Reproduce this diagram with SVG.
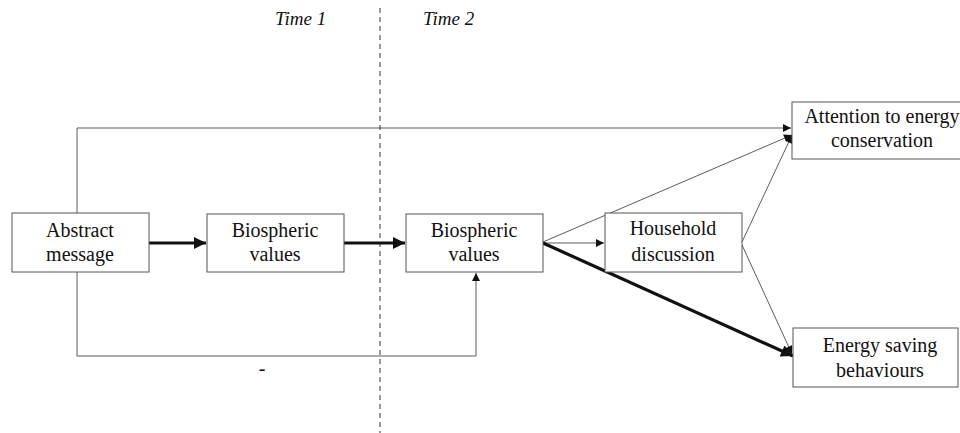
<svg xmlns="http://www.w3.org/2000/svg" width="960" height="433" viewBox="0 0 960 433">
<style>
.box{fill:#fff;stroke:#555;stroke-width:1}
.t{font-family:"Liberation Serif","Times New Roman",serif;font-size:20px;fill:#111;text-anchor:middle}
.ti{font-family:"Liberation Serif","Times New Roman",serif;font-size:19px;font-style:italic;fill:#111}
.thin{stroke:#333;stroke-width:0.8;fill:none}
.thick{stroke:#111;stroke-width:3.2;fill:none}
</style>
<defs>
<marker id="a" viewBox="0 0 10 10" refX="10" refY="5" markerWidth="10" markerHeight="8" markerUnits="userSpaceOnUse" orient="auto"><path d="M0,0L10,5L0,10z" fill="#111"/></marker>
<marker id="b" viewBox="0 0 10 10" refX="10" refY="5" markerWidth="14" markerHeight="12" markerUnits="userSpaceOnUse" orient="auto"><path d="M0,0L10,5L0,10z" fill="#111"/></marker>
</defs>
<rect width="960" height="433" fill="#fff"/>
<line x1="380" y1="8" x2="380" y2="433" stroke="#555" stroke-width="1.2" stroke-dasharray="5,4"/>
<text class="ti" x="275" y="25">Time 1</text>
<text class="ti" x="423" y="25">Time 2</text>
<g id="connectors">
<path class="thin" d="M77,213V128H791" marker-end="url(#a)"/>
<path class="thin" d="M77,272V356H476V273" marker-end="url(#a)"/>
<line class="thick" x1="149" y1="243" x2="206" y2="243" marker-end="url(#b)"/>
<line class="thick" x1="344" y1="243" x2="405" y2="243" marker-end="url(#b)"/>
<line class="thin" x1="543" y1="243" x2="604" y2="243" marker-end="url(#a)"/>
<line class="thin" x1="543" y1="242" x2="792" y2="135" marker-end="url(#a)"/>
<line class="thin" x1="742" y1="242" x2="792" y2="135" marker-end="url(#a)"/>
<line class="thin" x1="742" y1="245" x2="792" y2="354" marker-end="url(#a)"/>
<line class="thick" x1="543" y1="243" x2="793" y2="356" marker-end="url(#b)"/>
<text class="t" x="262" y="375">-</text>
</g>
<g id="abstract"><rect class="box" x="12" y="213" width="137" height="59"/><text class="t" x="80" y="237">Abstract</text><text class="t" x="80" y="261">message</text></g>
<g id="bio1"><rect class="box" x="207" y="214" width="137" height="58"/><text class="t" x="275" y="237">Biospheric</text><text class="t" x="275" y="261">values</text></g>
<g id="bio2"><rect class="box" x="406" y="214" width="137" height="58"/><text class="t" x="474" y="237">Biospheric</text><text class="t" x="474" y="261">values</text></g>
<g id="household"><rect class="box" x="605" y="213" width="137" height="59"/><text class="t" x="673" y="235">Household</text><text class="t" x="673" y="261">discussion</text></g>
<g id="attention"><rect class="box" x="792" y="102" width="180" height="57"/><text class="t" x="882" y="123">Attention to energy</text><text class="t" x="882" y="147">conservation</text></g>
<g id="energy"><rect class="box" x="793" y="328" width="165" height="59"/><text class="t" x="880" y="352">Energy saving</text><text class="t" x="880" y="377">behaviours</text></g>
</svg>
